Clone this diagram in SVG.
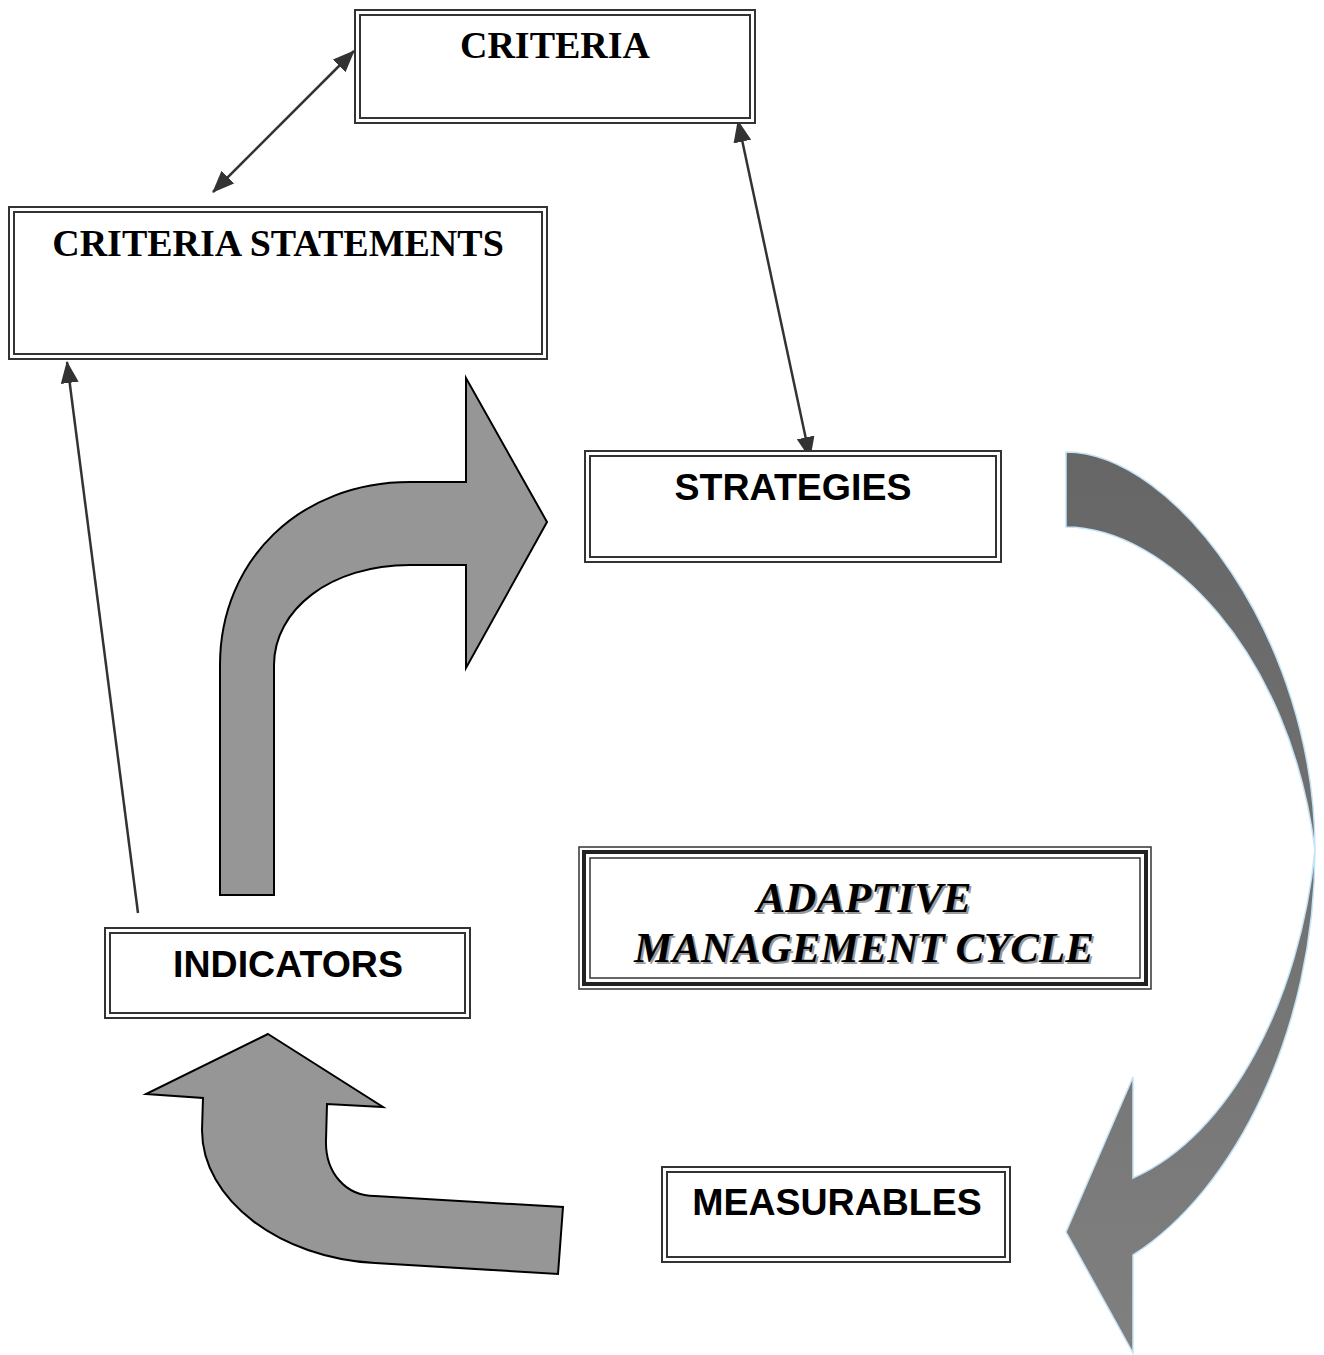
<svg xmlns="http://www.w3.org/2000/svg" width="1324" height="1355" viewBox="0 0 1324 1355">
<style>
.o{fill:#fff;stroke:#333;stroke-width:2}
.i{fill:none;stroke:#333;stroke-width:2}
.serif{font-family:"Liberation Serif","Times New Roman",serif;font-weight:bold;font-size:38px;fill:#000}
.sans{font-family:"Liberation Sans",Arial,sans-serif;font-weight:bold;font-size:37.5px;fill:#000}
.big{font-family:"Liberation Serif","Times New Roman",serif;font-weight:bold;font-style:italic;font-size:43px}
.blk{fill:#969696;stroke:#000;stroke-width:2;stroke-linejoin:miter}
.con{stroke:#333;stroke-width:2.5;fill:none}
</style>
<defs>
<marker id="ah" viewBox="0 0 22 18" refX="21" refY="9" markerWidth="22" markerHeight="18" markerUnits="userSpaceOnUse" orient="auto-start-reverse">
<path d="M0 0 L22 9 L0 18 Z" fill="#333"/>
</marker>
<linearGradient id="g" x1="0" y1="0" x2="0" y2="1">
<stop offset="0" stop-color="#666"/>
<stop offset="0.5" stop-color="#727272"/>
<stop offset="1" stop-color="#808080"/>
</linearGradient>
</defs>
<rect width="1324" height="1355" fill="#fff"/>

<g id="block-arrows">
<path id="arrow-up-right" class="blk" d="M220 895 L220 665 C220 560 300 482 410 482 L466 482 L466 378 L547 522 L466 668 L466 565 L410 565 C330 565 274 610 274 665 L274 895 Z"/>
<path id="arrow-up-left" class="blk" d="M268 1034 L383 1107 L327 1104 L326 1140 C325 1172 345 1196 375 1196 L563 1207 L558 1274 L375 1263 C280 1258 202 1200 202 1130 L203 1098 L146 1094 Z"/>
<path id="arrow-curved-down" d="M1066 452 C1175 452 1315 640 1315 850 C1315 1030 1235 1190 1133 1255 L1133 1353 L1066 1232 L1133 1077 L1133 1178 C1230 1135 1300 1000 1315 850 C1290 650 1165 527 1066 527 Z" fill="url(#g)" stroke="#c5e3f6" stroke-width="1.5"/>
</g>

<g id="connectors">
<line class="con" x1="213" y1="192" x2="354" y2="51" marker-start="url(#ah)" marker-end="url(#ah)"/>
<line class="con" x1="738" y1="121" x2="810" y2="458" marker-start="url(#ah)" marker-end="url(#ah)"/>
<line class="con" x1="138" y1="913" x2="67" y2="362" marker-end="url(#ah)"/>
</g>

<g id="criteria">
<rect class="o" x="355" y="10" width="400" height="113"/>
<rect class="i" x="360" y="15" width="390" height="103"/>
<text class="serif" x="555" y="58" text-anchor="middle">CRITERIA</text>
</g>

<g id="criteria-statements">
<rect class="o" x="9" y="207" width="538" height="152"/>
<rect class="i" x="14" y="212" width="528" height="142"/>
<text class="serif" x="278" y="256" text-anchor="middle">CRITERIA STATEMENTS</text>
</g>

<g id="strategies">
<rect class="o" x="585" y="451" width="416" height="111"/>
<rect class="i" x="590" y="456" width="406" height="101"/>
<text class="sans" x="793" y="500" text-anchor="middle">STRATEGIES</text>
</g>

<g id="adaptive-management-cycle">
<rect x="579" y="847" width="572" height="142" fill="#fff" stroke="#333" stroke-width="1.5"/>
<rect x="584" y="852" width="562" height="132" fill="none" stroke="#222" stroke-width="4"/>
<rect x="590" y="858" width="550" height="120" fill="none" stroke="#333" stroke-width="1.5"/>
<text class="big" x="866" y="914" text-anchor="middle" fill="#999">ADAPTIVE</text>
<text class="big" x="866" y="964" text-anchor="middle" fill="#999">MANAGEMENT CYCLE</text>
<text class="big" x="864" y="912" text-anchor="middle" fill="#000">ADAPTIVE</text>
<text class="big" x="864" y="962" text-anchor="middle" fill="#000">MANAGEMENT CYCLE</text>
</g>

<g id="indicators">
<rect class="o" x="105" y="928" width="365" height="90"/>
<rect class="i" x="110" y="933" width="355" height="80"/>
<text class="sans" x="288" y="977" text-anchor="middle">INDICATORS</text>
</g>

<g id="measurables">
<rect class="o" x="662" y="1167" width="348" height="95"/>
<rect class="i" x="667" y="1172" width="338" height="85"/>
<text class="sans" x="837" y="1215" text-anchor="middle">MEASURABLES</text>
</g>
</svg>
